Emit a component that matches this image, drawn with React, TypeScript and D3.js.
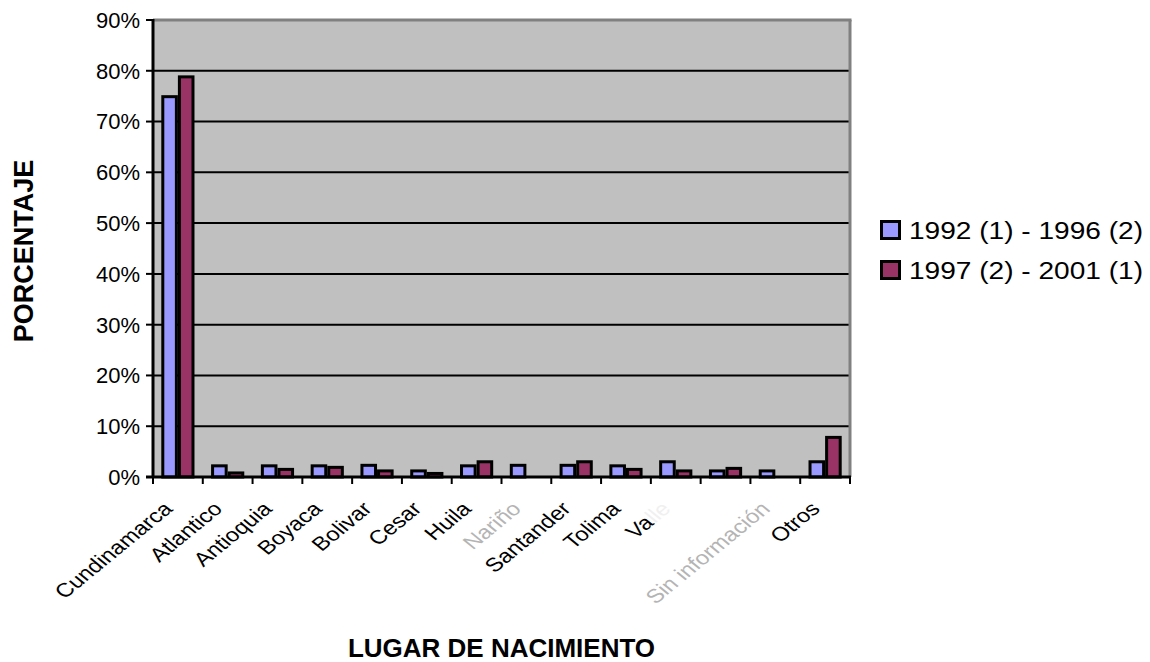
import React from "react";
import * as d3 from "d3";

const categories = [
  "Cundinamarca", "Atlantico", "Antioquia", "Boyaca", "Bolivar", "Cesar", "Huila",
  "Nariño", "Santander", "Tolima", "Valle", "", "Sin información", "Otros",
];
const series1 = [74.9, 2.2, 2.2, 2.2, 2.3, 1.2, 2.2, 2.3, 2.3, 2.2, 3.0, 1.2, 1.2, 3.0];
const series2 = [78.8, 0.8, 1.5, 1.9, 1.2, 0.7, 3.0, 0, 3.0, 1.5, 1.2, 1.7, 0, 7.8];
const seriesNames = ["1992 (1) - 1996 (2)", "1997 (2) - 2001 (1)"];
const seriesColors = ["#9999FF", "#993366"];
const yTicks = [0, 10, 20, 30, 40, 50, 60, 70, 80, 90];
const fadedLabels = ["Nariño", "Sin información"];

const FONT = "'Liberation Sans', Arial, Helvetica, sans-serif";

export default function App() {
  const left = 153, right = 850, top = 20, bottom = 477;
  const x = d3.scaleBand<number>().domain(d3.range(categories.length)).range([left, right]).paddingInner(0).paddingOuter(0);
  const y = d3.scaleLinear().domain([0, 90]).range([bottom, top]);
  const bw = x.bandwidth() / 3;
  const xs = d3.scaleBand<number>().domain([0, 1]).range([bw / 2, x.bandwidth() - bw / 2]);
  const all = [series1, series2];
  const boundaries = d3.range(categories.length + 1).map((i) => left + i * x.bandwidth());

  return (
    <svg width={1150} height={662} style={{ position: "absolute", left: 0, top: 0, background: "#fff" }} fontFamily={FONT}>
      <rect x={left} y={top} width={right - left} height={bottom - top} fill="#C0C0C0" />
      {yTicks.filter((t) => t > 0 && t < 90).map((t) => (
        <line key={t} x1={left} x2={right} y1={y(t)} y2={y(t)} stroke="#000" strokeWidth={2} />
      ))}
      <line x1={left} x2={right + 1.5} y1={top} y2={top} stroke="#808080" strokeWidth={3} />
      <line x1={right} x2={right} y1={top} y2={bottom} stroke="#808080" strokeWidth={3} />
      {all.map((s, si) =>
        s.map((v, i) =>
          v > 0 ? (
            <rect
              key={`${si}-${i}`}
              x={(x(i) as number) + (xs(si) as number) + 1.5}
              y={y(v)}
              width={xs.bandwidth() - 3}
              height={bottom - y(v)}
              fill={seriesColors[si]}
              stroke="#000"
              strokeWidth={3}
            />
          ) : null
        )
      )}
      <line x1={left} x2={left} y1={top - 1} y2={bottom + 1} stroke="#000" strokeWidth={3} />
      <line x1={left - 7} x2={right + 1} y1={bottom} y2={bottom} stroke="#000" strokeWidth={3} />
      {yTicks.map((t) => (
        <g key={t}>
          <line x1={left - 7} x2={left} y1={y(t)} y2={y(t)} stroke="#000" strokeWidth={2} />
          <text x={140} y={y(t)} dy="0.36em" textAnchor="end" fontSize={22} fill="#000">{t}%</text>
        </g>
      ))}
      {boundaries.map((b, i) => (
        <line key={i} x1={b} x2={b} y1={bottom} y2={bottom + 7} stroke="#000" strokeWidth={2} />
      ))}
      {categories.map((c, i) => {
        const cx = (x(i) as number) + x.bandwidth() / 2;
        const faded = fadedLabels.includes(c);
        return (
          <text
            key={i}
            transform={`translate(${cx - 4},${510}) scale(1.22,1) rotate(-45)`}
            textAnchor="end"
            fontSize={19.5}
            fill={faded ? "#b4b4b4" : "#000"}
          >
            {c === "Valle" ? (
              <>
                <tspan>Va</tspan>
                <tspan fill="#f0f0f0">lle</tspan>
              </>
            ) : (
              c
            )}
          </text>
        );
      })}
      <text x={(left + right) / 2} y={657} textAnchor="middle" fontSize={26} fontWeight="bold">LUGAR DE NACIMIENTO</text>
      <text transform="translate(33,251) rotate(-90)" textAnchor="middle" fontSize={27} fontWeight="bold">PORCENTAJE</text>
      {seriesNames.map((n, i) => (
        <g key={n} transform={`translate(0,${i * 40})`}>
          <rect x={881.5} y={221.5} width={18} height={17} fill={seriesColors[i]} stroke="#000" strokeWidth={3} />
          <text x={909} y={238.5} fontSize={23} textLength={234} lengthAdjust="spacingAndGlyphs">{n}</text>
        </g>
      ))}
    </svg>
  );
}
